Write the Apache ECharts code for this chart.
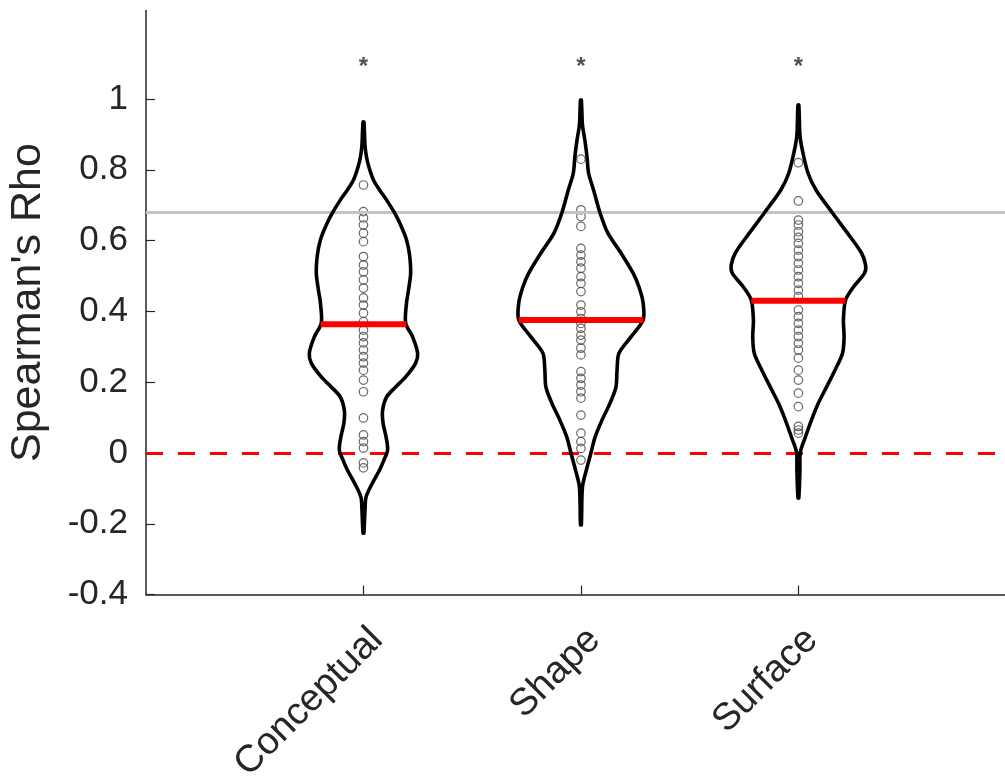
<!DOCTYPE html>
<html><head><meta charset="utf-8">
<script src="https://cdn.jsdelivr.net/npm/echarts@6/dist/echarts.min.js"></script>
<style>html,body{margin:0;padding:0;background:#fff}#c{width:1005px;height:776px}</style>
</head><body><div id="c"></div>
<script>
const categories = ['Conceptual', 'Shape', 'Surface'];
const yTicks = [-0.4, -0.2, 0, 0.2, 0.4, 0.6, 0.8, 1];

const conceptualPoints = [0.757, 0.682, 0.664, 0.644, 0.621, 0.597, 0.555, 0.531, 0.512, 0.489, 0.466, 0.438, 0.418, 0.395, 0.371, 0.347, 0.329, 0.311, 0.291, 0.272, 0.254, 0.234, 0.206, 0.173, 0.099, 0.051, 0.032, 0.014, -0.028, -0.042];
const shapePoints = [0.83, 0.687, 0.668, 0.640, 0.578, 0.559, 0.540, 0.522, 0.498, 0.479, 0.456, 0.418, 0.399, 0.380, 0.366, 0.352, 0.333, 0.319, 0.296, 0.277, 0.230, 0.211, 0.192, 0.173, 0.155, 0.107, 0.056, 0.032, 0.013, -0.02];
const surfacePoints = [0.82, 0.712, 0.658, 0.644, 0.625, 0.609, 0.592, 0.573, 0.555, 0.536, 0.517, 0.498, 0.479, 0.460, 0.442, 0.404, 0.385, 0.366, 0.347, 0.329, 0.310, 0.291, 0.268, 0.234, 0.206, 0.169, 0.131, 0.075, 0.065, 0.056];

const medians = [0.364, 0.376, 0.430];
const significanceY = [1.11, 1.11, 1.11];
const referenceLine = 0.68;
const zeroLine = 0;

// violin outlines: y values and half-widths (x-axis units)
const conceptualProfileY = [0.935, 0.870, 0.836, 0.808, 0.771, 0.743, 0.715, 0.678, 0.644, 0.602, 0.559, 0.508, 0.460, 0.424, 0.367, 0.328, 0.282, 0.254, 0.215, 0.186, 0.158, 0.121, 0.085, 0.045, 0.008, -0.020, -0.048, -0.085, -0.124, -0.161, -0.226];
const conceptualProfileW = [0.002, 0.007, 0.014, 0.025, 0.046, 0.074, 0.106, 0.143, 0.171, 0.198, 0.212, 0.217, 0.207, 0.198, 0.194, 0.226, 0.249, 0.240, 0.194, 0.147, 0.106, 0.088, 0.090, 0.104, 0.111, 0.094, 0.074, 0.041, 0.012, 0.007, 0.002];

const shapeProfileY = [0.997, 0.927, 0.884, 0.836, 0.791, 0.743, 0.678, 0.621, 0.565, 0.508, 0.469, 0.424, 0.376, 0.328, 0.282, 0.234, 0.186, 0.141, 0.093, 0.045, 0.000, -0.048, -0.096, -0.203];
const shapeProfileW = [0.002, 0.007, 0.018, 0.028, 0.035, 0.058, 0.088, 0.124, 0.184, 0.240, 0.267, 0.286, 0.286, 0.230, 0.175, 0.166, 0.161, 0.134, 0.097, 0.065, 0.046, 0.025, 0.007, 0.002];

const surfaceProfileY = [0.983, 0.898, 0.856, 0.791, 0.743, 0.678, 0.621, 0.565, 0.531, 0.508, 0.469, 0.432, 0.376, 0.328, 0.282, 0.234, 0.186, 0.141, 0.093, 0.045, 0.003, -0.048, -0.127];
const surfaceProfileW = [0.002, 0.007, 0.018, 0.044, 0.081, 0.157, 0.226, 0.290, 0.309, 0.304, 0.253, 0.217, 0.207, 0.210, 0.203, 0.168, 0.129, 0.092, 0.060, 0.032, 0.009, 0.007, 0.002];

const profilesY = [conceptualProfileY, shapeProfileY, surfaceProfileY];
const profilesW = [conceptualProfileW, shapeProfileW, surfaceProfileW];
const pointSets = [conceptualPoints, shapePoints, surfacePoints];

function widthAt(i, v) {
  const ys = profilesY[i], ws = profilesW[i];
  for (let k = 0; k < ys.length - 1; k++) {
    if (v <= ys[k] && v >= ys[k + 1]) {
      const t = (ys[k] - v) / (ys[k] - ys[k + 1]);
      return ws[k] + t * (ws[k + 1] - ws[k]);
    }
  }
  return 0;
}

const FONT = 'Liberation Sans, Arial, Helvetica, sans-serif';
const TXT = '#262626';

const chart = echarts.init(document.getElementById('c'), null, {renderer: 'canvas'});

const scatterSeries = pointSets.map((pts, i) => ({
  type: 'scatter',
  z: 3,
  symbol: 'circle',
  symbolSize: 8.5,
  itemStyle: {color: 'rgba(0,0,0,0)', borderColor: '#444444', borderWidth: 1.2},
  data: pts.map(v => [i + 1, v]),
  silent: true
}));

const option = {
  animation: false,
  backgroundColor: '#fff',
  grid: {left: 146, right: 0, top: 10.5, bottom: 181.4, containLabel: false, outerBoundsMode: 'none'},
  xAxis: {
    type: 'value', min: 0, max: 3.95,
    axisLine: {show: true, onZero: false, lineStyle: {color: TXT, width: 1.5}},
    axisTick: {show: true, inside: true, length: 9, customValues: [1, 2, 3], lineStyle: {color: TXT, width: 1.2}},
    axisLabel: {
      customValues: [1, 2, 3],
      formatter: v => categories[Math.round(v) - 1] || '',
      rotate: 45, fontSize: 38, color: TXT, fontFamily: FONT, margin: 26,
      verticalAlign: 'top', hideOverlap: false
    },
    splitLine: {show: false}
  },
  yAxis: {
    type: 'value', min: -0.4, max: 1.25,
    name: "Spearman's Rho", nameLocation: 'middle', nameGap: 96,
    nameTextStyle: {fontSize: 43, color: TXT, fontFamily: FONT},
    axisLine: {show: true, onZero: false, lineStyle: {color: TXT, width: 1.5}},
    axisTick: {show: true, inside: true, length: 9, customValues: yTicks, lineStyle: {color: TXT, width: 1.2}},
    axisLabel: {
      customValues: yTicks,
      formatter: v => String(parseFloat(v.toFixed(1))),
      fontSize: 35, color: TXT, fontFamily: FONT, margin: 18
    },
    splitLine: {show: false}
  },
  series: [
    {
      type: 'line', data: [], z: 1, silent: true,
      markLine: {
        silent: true, symbol: 'none', animation: false,
        label: {show: false},
        lineStyle: {color: '#c4c4c4', width: 3, type: 'solid'},
        data: [{yAxis: referenceLine}]
      }
    },
    ...scatterSeries,
    {
      type: 'custom', z: 5, silent: true,
      coordinateSystem: 'cartesian2d',
      data: categories.map((_, i) => [i + 1, medians[i]]),
      renderItem: function (params, api) {
        const i = params.dataIndex;
        const c = i + 1;
        const ys = profilesY[i], ws = profilesW[i];
        const right = ys.map((y, k) => api.coord([c + ws[k], y]));
        const left = ys.map((y, k) => api.coord([c - ws[k], y])).reverse();
        return {
          type: 'polygon',
          shape: {points: right.concat(left), smooth: 0.3},
          style: {fill: 'none', stroke: '#000', lineWidth: 3.6, lineJoin: 'round'}
        };
      }
    },
    {
      type: 'custom', z: 6, silent: true,
      coordinateSystem: 'cartesian2d',
      data: categories.map((_, i) => [i + 1, medians[i]]),
      renderItem: function (params, api) {
        const i = params.dataIndex;
        const c = i + 1;
        const m = medians[i];
        const w = widthAt(i, m);
        const p1 = api.coord([c - w, m]);
        const p2 = api.coord([c + w, m]);
        return {
          type: 'line',
          shape: {x1: p1[0], y1: p1[1], x2: p2[0], y2: p2[1]},
          style: {stroke: '#ff0000', lineWidth: 6}
        };
      }
    },
    {
      type: 'line', data: [], z: 7, silent: true,
      markLine: {
        silent: true, symbol: 'none', animation: false,
        label: {show: false},
        lineStyle: {color: '#ff0000', width: 3, type: [17, 15]},
        data: [{yAxis: zeroLine}]
      }
    },
    {
      type: 'scatter', z: 8, silent: true,
      symbolSize: 1,
      itemStyle: {color: 'rgba(0,0,0,0)'},
      data: categories.map((_, i) => [i + 1, significanceY[i]]),
      label: {
        show: true, position: 'inside', formatter: '*',
        fontSize: 24, fontWeight: 'bold', color: TXT, fontFamily: FONT, offset: [0, 7]
      }
    }
  ]
};
chart.setOption(option);
</script>
</body></html>
